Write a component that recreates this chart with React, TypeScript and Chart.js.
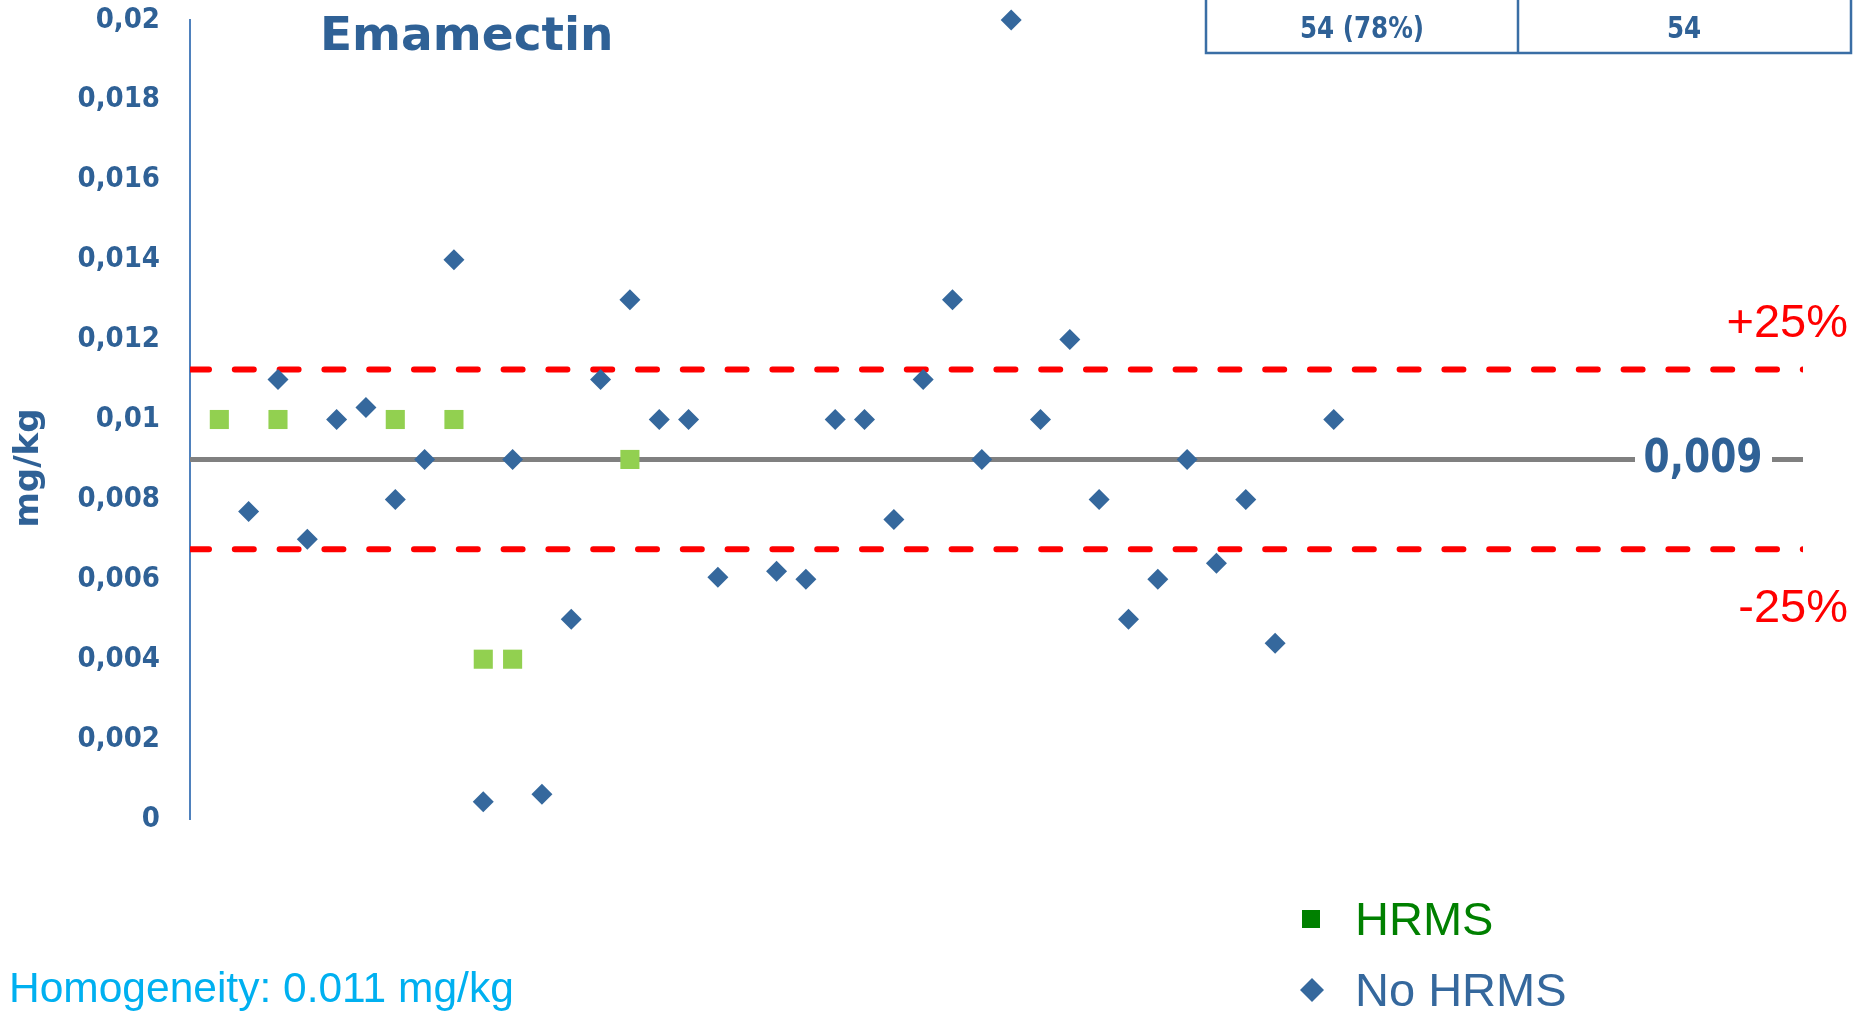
import React, { useEffect, useRef } from 'react';
import { Chart, registerables } from 'chart.js';

Chart.register(...registerables);

// ---------- data ----------
const TITLE = 'Emamectin';
const Y_AXIS_TITLE = 'mg/kg';
const Y_TICK_VALUES = [0, 0.002, 0.004, 0.006, 0.008, 0.01, 0.012, 0.014, 0.016, 0.018, 0.02];
const Y_TICK_LABELS = ['0', '0,002', '0,004', '0,006', '0,008', '0,01', '0,012', '0,014', '0,016', '0,018', '0,02'];

const HRMS_LABS = [1, 3, 7, 9, 10, 11, 15];
const HRMS_VALUES = [0.01, 0.01, 0.01, 0.01, 0.004, 0.004, 0.009];

const NO_HRMS_LABS = [2, 3, 4, 5, 6, 7, 8, 9, 10, 11, 12, 13, 14, 15, 16, 17, 18, 20, 21, 22, 23, 24, 25, 26, 27, 28, 29, 30, 31, 32, 33, 34, 35, 36, 37, 39];
const NO_HRMS_VALUES = [
  0.0077, 0.011, 0.007, 0.01, 0.0103, 0.008, 0.009, 0.014, 0.00043, 0.009, 0.00062, 0.005, 0.011, 0.013, 0.01, 0.01, 0.00605,
  0.0062, 0.006, 0.01, 0.01, 0.0075, 0.011, 0.013, 0.009, 0.02, 0.01, 0.012, 0.008, 0.005, 0.006, 0.009, 0.0064, 0.008, 0.0044,
  0.01,
];

const X_RANGE = [0, 55];
const ASSIGNED_VALUE = 0.009;
const ASSIGNED_LABEL = '0,009';
const UPPER_LIMIT = 0.01125;
const LOWER_LIMIT = 0.00675;
const UPPER_LABEL = '+25%';
const LOWER_LABEL = '-25%';
const TABLE_CELLS = ['54 (78%)', '54'];
const LEGEND_LABELS = ['HRMS', 'No HRMS'];
const HOMOGENEITY_TEXT = 'Homogeneity: 0.011 mg/kg';

// ---------- styles ----------
const DARK_BLUE = '#2F6196';
const DIAMOND = '#35689D';
const GREEN_SQ = '#92D050';
const AXIS_BLUE = '#4F81BD';
const COND_FONT = '"DejaVu Sans Condensed", "DejaVu Sans", sans-serif';
const BOLD_FONT = '"DejaVu Sans", sans-serif';
const ARIAL = '"Liberation Sans", Arial, sans-serif';

function condensedText(ctx: CanvasRenderingContext2D, text: string, cx: number, cy: number, sx: number) {
  ctx.save();
  ctx.translate(cx, cy);
  ctx.scale(sx, 1);
  ctx.textAlign = 'center';
  ctx.textBaseline = 'middle';
  ctx.fillText(text, 0, 0);
  ctx.restore();
}

const overlay = {
  id: 'overlay',
  afterDraw(chart: any) {
    const ctx = chart.ctx as CanvasRenderingContext2D;
    const ys = chart.scales.y;
    ctx.save();

    // title
    ctx.fillStyle = DARK_BLUE;
    ctx.font = `bold 47px ${BOLD_FONT}`;
    ctx.textAlign = 'left';
    ctx.textBaseline = 'middle';
    ctx.fillText(TITLE, 320, 38);

    // y axis title
    ctx.save();
    ctx.translate(29, 468);
    ctx.rotate(-Math.PI / 2);
    ctx.textAlign = 'center';
    ctx.textBaseline = 'middle';
    ctx.font = `bold 34px ${BOLD_FONT}`;
    ctx.fillText(Y_AXIS_TITLE, 0, 0);
    ctx.restore();

    // table
    ctx.strokeStyle = '#3A6EA5';
    ctx.lineWidth = 2.5;
    ctx.beginPath();
    ctx.moveTo(1206, 0);
    ctx.lineTo(1206, 53);
    ctx.lineTo(1851, 53);
    ctx.lineTo(1851, 0);
    ctx.moveTo(1518, 0);
    ctx.lineTo(1518, 53);
    ctx.stroke();
    ctx.font = `bold 30px ${BOLD_FONT}`;
    condensedText(ctx, TABLE_CELLS[0], 1362, 30, 0.82);
    condensedText(ctx, TABLE_CELLS[1], 1684, 30, 0.82);

    // assigned value label on gray line
    const yc = ys.getPixelForValue(ASSIGNED_VALUE);
    ctx.fillStyle = '#ffffff';
    ctx.fillRect(1635, yc - 6, 137, 12);
    ctx.fillStyle = DARK_BLUE;
    ctx.font = `bold 47px ${BOLD_FONT}`;
    condensedText(ctx, ASSIGNED_LABEL, 1703, yc, 0.8);

    // +/-25%
    ctx.fillStyle = '#FF0000';
    ctx.font = `47px ${ARIAL}`;
    ctx.textAlign = 'right';
    ctx.textBaseline = 'middle';
    ctx.fillText(UPPER_LABEL, 1848, 324);
    ctx.fillText(LOWER_LABEL, 1848, 609);

    // legend
    ctx.fillStyle = '#008000';
    ctx.fillRect(1302, 910, 18, 18);
    ctx.font = `47px ${ARIAL}`;
    ctx.textAlign = 'left';
    ctx.fillText(LEGEND_LABELS[0], 1355, 922);
    ctx.fillStyle = DIAMOND;
    ctx.beginPath();
    ctx.moveTo(1312, 978);
    ctx.lineTo(1324, 990);
    ctx.lineTo(1312, 1002);
    ctx.lineTo(1300, 990);
    ctx.closePath();
    ctx.fill();
    ctx.fillText(LEGEND_LABELS[1], 1355, 993);

    // homogeneity
    ctx.fillStyle = '#00B0F0';
    ctx.font = `42.5px ${ARIAL}`;
    ctx.textAlign = 'left';
    ctx.fillText(HOMOGENEITY_TEXT, 9, 990);

    ctx.restore();
  },
};

export default function App() {
  const ref = useRef<HTMLCanvasElement>(null);
  useEffect(() => {
    const hLine = (v: number) => [
      { x: X_RANGE[0], y: v },
      { x: X_RANGE[1], y: v },
    ];
    const chart = new Chart(ref.current as HTMLCanvasElement, {
      type: 'scatter',
      data: {
        datasets: [
          {
            label: LEGEND_LABELS[0],
            data: HRMS_LABS.map((x, i) => ({ x, y: HRMS_VALUES[i] })),
            pointStyle: 'rect',
            pointRadius: 13.5,
            backgroundColor: GREEN_SQ,
            borderWidth: 0,
            clip: false,
            order: 0,
          },
          {
            label: LEGEND_LABELS[1],
            data: NO_HRMS_LABS.map((x, i) => ({ x, y: NO_HRMS_VALUES[i] })),
            pointStyle: 'rectRot',
            pointRadius: 10.5,
            backgroundColor: DIAMOND,
            borderWidth: 0,
            clip: false,
            order: 1,
          },
          {
            type: 'line',
            label: 'assigned',
            data: hLine(ASSIGNED_VALUE),
            borderColor: '#808080',
            borderWidth: 5,
            pointRadius: 0,
            order: 3,
          },
          {
            type: 'line',
            label: 'upper',
            data: hLine(UPPER_LIMIT),
            borderColor: '#FF0000',
            borderWidth: 6,
            borderDash: [19, 25.8],
            borderCapStyle: 'round',
            pointRadius: 0,
            order: 2,
          },
          {
            type: 'line',
            label: 'lower',
            data: hLine(LOWER_LIMIT),
            borderColor: '#FF0000',
            borderWidth: 6,
            borderDash: [19, 25.8],
            borderCapStyle: 'round',
            pointRadius: 0,
            order: 2,
          },
        ] as any,
      },
      options: {
        animation: false,
        responsive: false,
        maintainAspectRatio: false,
        layout: { padding: { left: 0, right: 50, top: 20, bottom: 192 } },
        plugins: { legend: { display: false }, tooltip: { enabled: false } },
        scales: {
          x: { type: 'linear', min: X_RANGE[0], max: X_RANGE[1], display: false },
          y: {
            type: 'linear',
            min: 0,
            max: 0.02,
            afterFit: (s: any) => {
              s.width = 190;
              s.paddingTop = 0;
              s.paddingBottom = 0;
            },
            afterBuildTicks: (s: any) => {
              s.ticks = Y_TICK_VALUES.map((v) => ({ value: v }));
            },
            grid: { display: false, drawTicks: false },
            border: { display: true, color: AXIS_BLUE, width: 2 },
            ticks: {
              padding: 30,
              color: DARK_BLUE,
              font: { family: COND_FONT, size: 29, weight: 'bold' },
              callback: (_v: any, i: number) => Y_TICK_LABELS[i],
            },
          },
        },
      } as any,
      plugins: [overlay],
    });
    return () => chart.destroy();
  }, []);
  return (
    <div style={{ position: 'absolute', left: 0, top: 0, width: 1853, height: 1011, background: '#ffffff', overflow: 'hidden' }}>
      <canvas ref={ref} width={1853} height={1011} style={{ display: 'block' }} />
    </div>
  );
}
